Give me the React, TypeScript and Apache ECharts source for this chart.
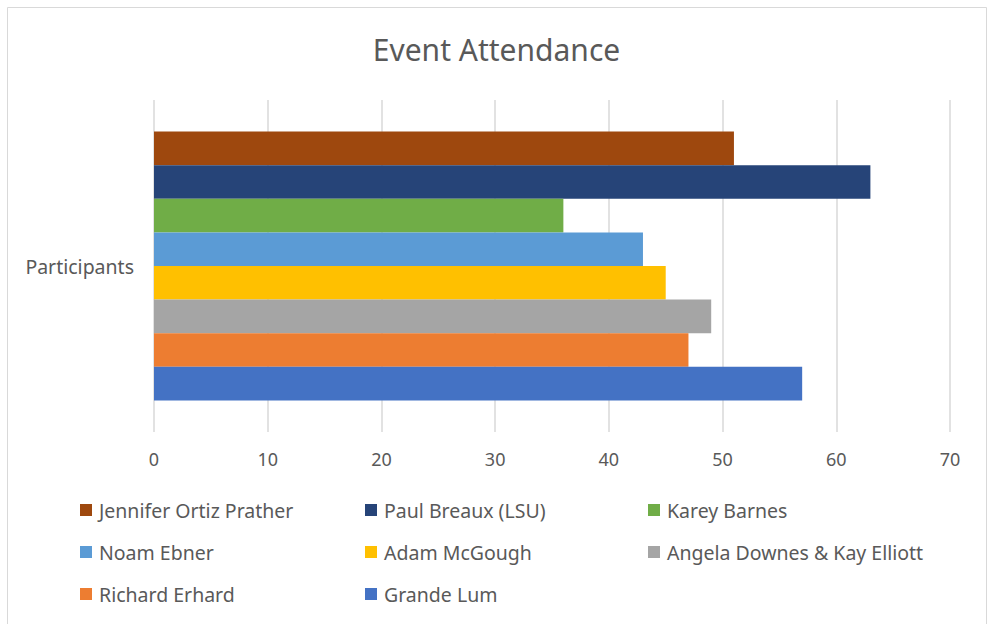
import React, { useEffect, useRef } from "react";
import * as echarts from "echarts";

const category = ["Participants"];
// series from top to bottom of the bar cluster
const seriesNames = [
  "Jennifer Ortiz Prather",
  "Paul Breaux (LSU)",
  "Karey Barnes",
  "Noam Ebner",
  "Adam McGough",
  "Angela Downes & Kay Elliott",
  "Richard Erhard",
  "Grande Lum",
];
const seriesValues = [51, 63, 36, 43, 45, 49, 47, 57];
const seriesColors = [
  "#9E480E",
  "#264478",
  "#70AD47",
  "#5B9BD5",
  "#FFC000",
  "#A5A5A5",
  "#ED7D31",
  "#4472C4",
];
const legendCol1 = ["Jennifer Ortiz Prather", "Noam Ebner", "Richard Erhard"];
const legendCol2 = ["Paul Breaux (LSU)", "Adam McGough", "Grande Lum"];
const legendCol3 = ["Karey Barnes", "Angela Downes & Kay Elliott"];
const xTicks = { min: 0, max: 70, interval: 10 };

const FONT = "'Noto Sans', sans-serif";
const TEXT = "#595959";

export default function App() {
  const ref = useRef<HTMLDivElement>(null);
  useEffect(() => {
    if (!ref.current) return;
    const chart = echarts.init(ref.current, null, { renderer: "svg" });
    const legendBase = (left: number, data: string[]) => ({
      orient: "vertical",
      left,
      top: 500,
      padding: 0,
      itemWidth: 12,
      itemHeight: 12,
      itemGap: 22,
      icon: "rect",
      data,
      selectedMode: false,
      textStyle: {
        color: TEXT,
        fontFamily: FONT,
        fontSize: 19.5,
        lineHeight: 20,
        padding: [0, 0, 0, 2],
      },
    });
    chart.setOption({
      animation: false,
      textStyle: { fontFamily: FONT },
      title: {
        text: "Event Attendance",
        left: "center",
        top: 34,
        padding: 0,
        textStyle: {
          color: TEXT,
          fontFamily: FONT,
          fontSize: 30,
          fontWeight: "normal",
        },
      },
      graphic: [
        {
          type: "rect",
          shape: { x: 7.5, y: 7.5, width: 979, height: 640 },
          style: { fill: "none", stroke: "#d9d9d9", lineWidth: 1 },
          silent: true,
        },
      ],
      legend: [
        legendBase(80, legendCol1),
        legendBase(365, legendCol2),
        legendBase(648, legendCol3),
      ],
      grid: { left: 154, right: 43, top: 100, bottom: 192 },
      xAxis: {
        type: "value",
        min: xTicks.min,
        max: xTicks.max,
        interval: xTicks.interval,
        axisLine: { show: false },
        axisTick: { show: false },
        splitLine: { show: true, lineStyle: { color: "#d9d9d9", width: 1.5 } },
        axisLabel: {
          color: TEXT,
          fontFamily: FONT,
          fontSize: 18,
          margin: 18,
        },
      },
      yAxis: {
        type: "category",
        data: category,
        axisLine: { show: false },
        axisTick: { show: false },
        axisLabel: {
          color: TEXT,
          fontFamily: FONT,
          fontSize: 19.5,
          margin: 20,
        },
      },
      series: seriesNames.map((name, i) => ({
        name,
        type: "bar",
        data: [seriesValues[i]],
        itemStyle: { color: seriesColors[i] },
        barGap: "0%",
        barCategoryGap: "19%",
      })),
    });
    return () => chart.dispose();
  }, []);
  return (
    <div
      ref={ref}
      style={{ position: "absolute", left: 0, top: 0, width: 993, height: 624 }}
    />
  );
}
